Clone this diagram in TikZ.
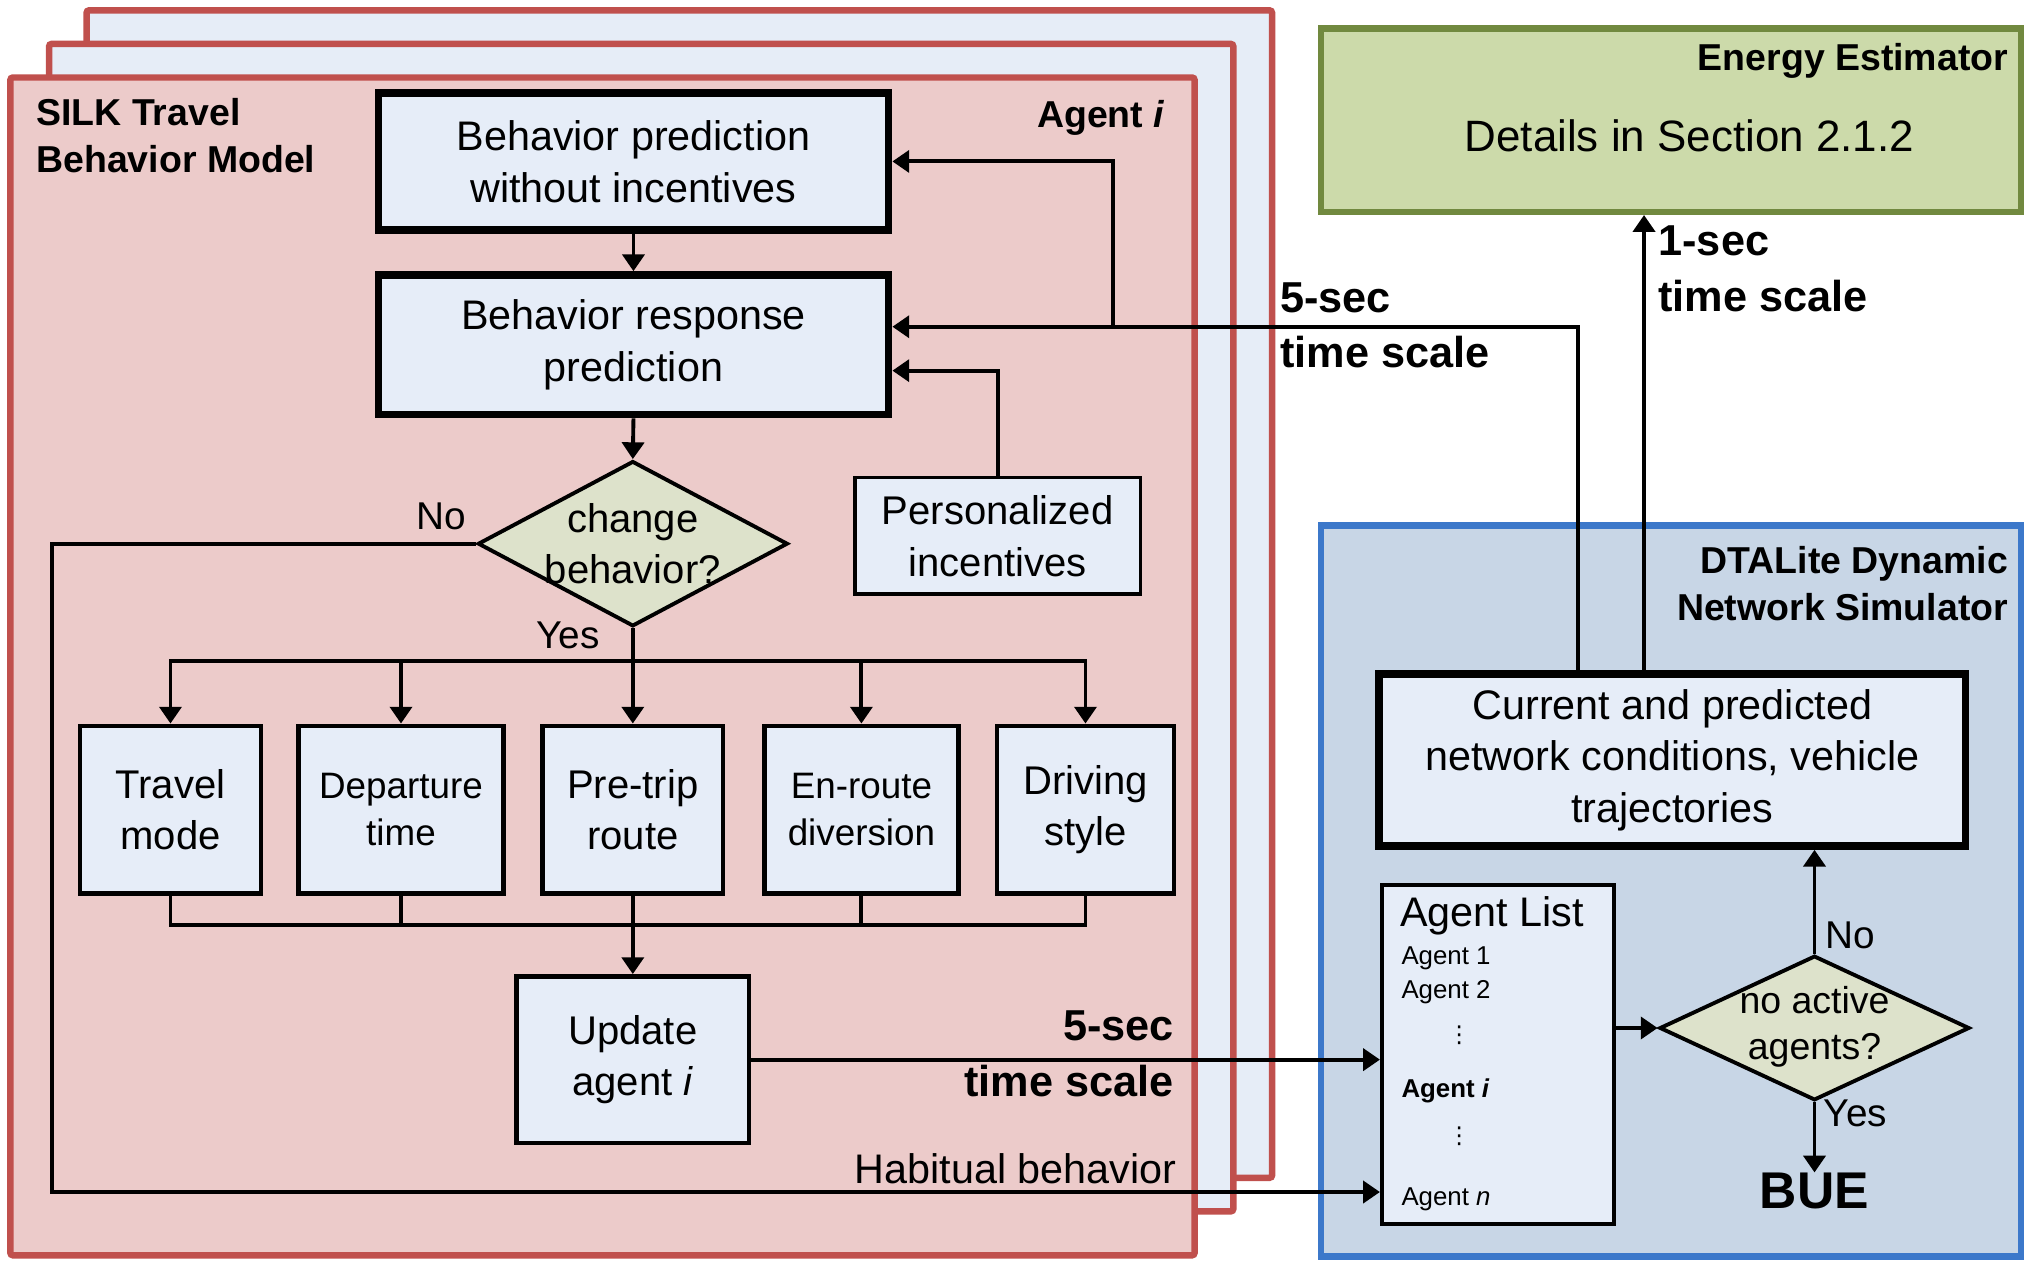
\documentclass[tikz,border=0pt]{standalone}
\usepackage{fontspec}
\setmainfont{Liberation Sans}
\newfontfamily\djv{DejaVu Sans}
\usetikzlibrary{arrows.meta,shapes.geometric}
\definecolor{sheetred}{HTML}{C0504D}
\definecolor{sheetpink}{HTML}{ECCBCA}
\definecolor{sheetblue}{HTML}{E6EDF7}
\definecolor{boxfill}{HTML}{E6EDF8}
\definecolor{diafill}{HTML}{DDE2CB}
\definecolor{greenfill}{HTML}{CCDAAA}
\definecolor{greenline}{HTML}{71893F}
\definecolor{bluefill}{HTML}{C8D6E6}
\definecolor{blueline}{HTML}{3C78CA}
\newcommand{\fsz}[2]{\fontsize{#1}{#2}\selectfont}
\begin{document}
\begin{tikzpicture}[x=1pt,y=-1pt,
  sheet/.style={draw=sheetred,line width=5pt,rounded corners=2pt},
  box/.style={draw,line width=3.5pt,fill=boxfill,inner sep=0pt,align=center,font=\fsz{31}{40}},
  thickbox/.style={box,line width=6pt,font=\fsz{32}{40}},
  thinbox/.style={box,line width=2.5pt},
  dia/.style={diamond,draw,line width=3pt,fill=diafill,inner sep=0pt},
  txt/.style={inner sep=0pt,align=center},
  bold/.style={txt,font=\fsz{29}{36}\bfseries},
  big/.style={txt,font=\fsz{33.5}{43}\bfseries},
  lbl/.style={txt,font=\fsz{30}{36}},
  small/.style={inner sep=0pt,anchor=west,font=\fsz{20}{24}},
  dots/.style={inner sep=0pt,font=\djv\fsz{18}{20}},
  conn/.style={line width=3pt},
  arr/.style={conn,-{Triangle[length=13pt,width=17pt]}}
]
\useasboundingbox (0,0) rectangle (1568,976);

% stacked agent sheets
\draw[sheet,fill=sheetblue] (67,8) rectangle (985,912);
\draw[sheet,fill=sheetblue] (38,34) rectangle (955,938);
\draw[sheet,fill=sheetpink] (8,60) rectangle (925,972);

% energy estimator
\node[draw=greenline,fill=greenfill,line width=5pt,minimum width=542,minimum height=142,inner sep=0pt] (energy) at (1294,93) {};
\node[bold,anchor=east] (energytitle) at (1555,47) {Energy Estimator};
\node[txt,font=\fsz{34}{40}] (details) at (1308,105) {Details in Section 2.1.2};

% DTALite
\node[draw=blueline,fill=bluefill,line width=5pt,minimum width=542,minimum height=566,inner sep=0pt] (dta) at (1294,690) {};
\node[bold,anchor=east,align=right] (dtatitle) at (1555,452) {DTALite Dynamic\\Network Simulator};

% left model
\node[bold,anchor=west,align=left] (silk) at (28,105) {SILK Travel\\Behavior Model};
\node[bold,anchor=east] (agenti) at (902,91) {Agent \textit{i}};

\node[thickbox,minimum width=395,minimum height=106] (b1) at (490.5,125) {Behavior prediction\\without incentives};
\node[thickbox,minimum width=395,minimum height=108] (b2) at (490.5,267) {Behavior response\\prediction};
\node[thinbox,minimum width=221,minimum height=90,font=\fsz{31}{40}] (pi) at (772.5,415) {Personalized\\incentives};
\node[dia,minimum width=240,minimum height=128] (d1) at (490,421) {};
\node[txt,font=\fsz{31}{40}] (d1text) at (490,421) {change\\behavior?};

\node[box,minimum width=140,minimum height=130] (tm) at (132,627) {Travel\\mode};
\node[box,minimum width=159,minimum height=130,font=\fsz{28.5}{36}] (dt) at (310.5,627) {Departure\\time};
\node[box,minimum width=140,minimum height=130] (pr) at (490,627) {Pre-trip\\route};
\node[box,minimum width=150,minimum height=130,font=\fsz{28.5}{36}] (er) at (667,627) {En-route\\diversion};
\node[box,minimum width=137,minimum height=130] (ds) at (840.5,627) {Driving\\style};
\node[box,minimum width=180,minimum height=129] (upd) at (490,820.5) {Update\\agent \textit{i}};

% right side
\node[thickbox,minimum width=454,minimum height=133] (cur) at (1295,588.5) {Current and predicted\\network conditions, vehicle\\trajectories};
\node[box,line width=3pt,minimum width=180,minimum height=263] (al) at (1160,816.5) {};
\node[inner sep=0pt,anchor=west,font=\fsz{32}{38}] (altitle) at (1084,709) {Agent List};
\node[small] (a1) at (1085,742) {Agent 1};
\node[small] (a2) at (1085,768) {Agent 2};
\node[dots] (v1) at (1130,802) {⋮};
\node[small,font=\fsz{20}{24}\bfseries] (ai) at (1085,845) {Agent \textit{i}};
\node[dots] (v2) at (1130,880) {⋮};
\node[small] (an) at (1085,929) {Agent \textit{n}};
\node[dia,minimum width=240,minimum height=112] (d2) at (1405,796) {};
\node[txt,font=\fsz{29}{36}] (d2text) at (1405,795) {no active\\agents?};
\node[txt,font=\fsz{40}{44}\bfseries] (bue) at (1405,922) {BUE};

% labels
\node[lbl] (no1) at (342,400) {No};
\node[lbl] (yes1) at (440,492) {Yes};
\node[lbl,anchor=west] (no2) at (1413,724) {No};
\node[lbl,anchor=west] (yes2) at (1412,862) {Yes};
\node[big,anchor=west,align=left] (t5a) at (991,252) {5-sec\\time scale};
\node[big,anchor=west,align=left] (t1) at (1284,208) {1-sec\\time scale};
\node[big,anchor=east,align=right] (t5b) at (909,816) {5-sec\\time scale};
\node[txt,anchor=east,font=\fsz{32}{38}] (hab) at (911,905) {Habitual behavior};

% coordinates
\coordinate (yesbus) at (490,512);
\coordinate (collect) at (490,716);
\coordinate (habL) at (40,421);
\coordinate (habY) at (0,923);
\coordinate (c5) at (1222,253);
\coordinate (br) at (862,253);
\coordinate (pin) at (0,287);
\coordinate (one) at (1273,0);

% connectors
\draw[arr] (b1.south) -- (b2.north);
\draw[arr] (b2.south) -- (d1.north);
\draw[arr] (d1.south) -- (pr.north);
\draw[arr] (yesbus) -| (tm.north);
\draw[arr] (yesbus) -| (dt.north);
\draw[arr] (yesbus) -| (er.north);
\draw[arr] (yesbus) -| (ds.north);
\draw[conn] (tm.south) |- (collect);
\draw[conn] (dt.south) |- (collect);
\draw[conn] (er.south) |- (collect);
\draw[conn] (ds.south) |- (collect);
\draw[arr] (pr.south) -- (upd.north);
\draw[arr] (upd.east) -- (upd.east -| al.west);
\draw[arr] (d1.west) -- (habL) |- (al.west |- habY);
\draw[arr] (cur.north -| c5) -- (c5) -- (b2.east |- c5);
\draw[arr] (br) |- (b1.east);
\draw[arr] (pi.north) |- (b2.east |- pin);
\draw[arr] (cur.north -| one) -- (energy.south -| one);
\draw[arr] (al.east |- d2.west) -- (d2.west);
\draw[arr] (d2.north) -- (d2.north |- cur.south);
\draw[arr] (d2.south) -- (bue.north);
\end{tikzpicture}
\end{document}
